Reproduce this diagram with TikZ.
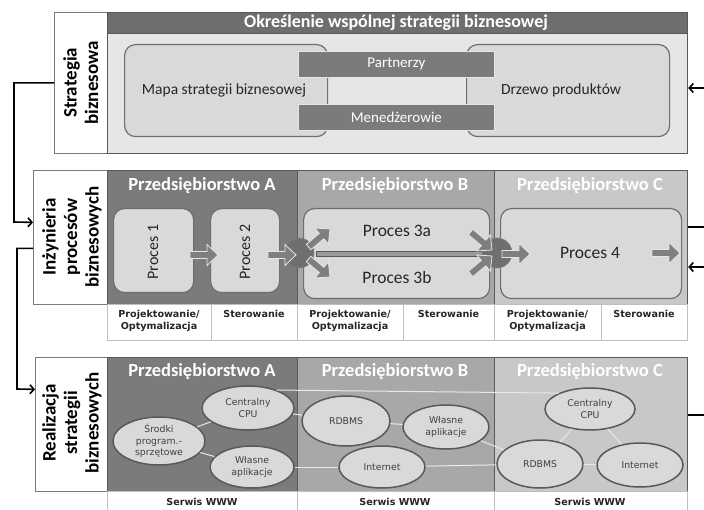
\documentclass[tikz,border=0pt]{standalone}
\usepackage{fontspec}
\setmainfont{Carlito}
\newfontfamily\smallsans{DejaVu Sans}
\usetikzlibrary{shapes.geometric,arrows.meta}
\definecolor{barC}{HTML}{6E6E6E}
\definecolor{areaA}{HTML}{7B7B7B}
\definecolor{areaB}{HTML}{A8A8A8}
\definecolor{areaC}{HTML}{C8C8C8}
\definecolor{paleC}{HTML}{E6E6E6}
\definecolor{boxC}{HTML}{D9D9D9}
\definecolor{edgeC}{HTML}{595959}
\definecolor{rimC}{HTML}{6E6E6E}
\definecolor{cellC}{HTML}{BFBFBF}
\definecolor{linkC}{HTML}{E8E8E8}
\definecolor{arrC}{HTML}{7F7F7F}
\definecolor{hubC}{HTML}{6F6F6F}
\definecolor{cellT}{HTML}{262626}
\begin{document}
\begin{tikzpicture}[x=1pt,y=-1pt,
  panel/.style={rectangle, draw=edgeC, line width=1.2pt, anchor=north west, inner sep=0},
  labbox/.style={rectangle, draw=edgeC!80, line width=0.8pt, fill=white, anchor=north west, inner sep=0},
  labtext/.style={rotate=90, font=\bfseries\fontsize{19}{21.5}\selectfont, align=center},
  title/.style={text=white, font=\bfseries\fontsize{18.5}{21}\selectfont},
  rbox/.style={rectangle, draw=rimC, line width=1.2pt, fill=boxC, rounded corners=11pt, anchor=north west, inner sep=0},
  bar/.style={rectangle, draw=paleC, line width=0.8pt, fill=areaA, anchor=north west, inner sep=0, text=white, font=\fontsize{15}{17}\selectfont},
  ptext/.style={font=\fontsize{15.5}{18}\selectfont, text=black!85},
  prtext/.style={font=\fontsize{17.5}{20}\selectfont, text=black!85},
  cell/.style={rectangle, draw=cellC, line width=0.6pt, fill=white, anchor=north west, inner sep=0},
  celltext/.style={font=\smallsans\bfseries\fontsize{9.6}{12}\selectfont, align=center, text=cellT, anchor=north},
  ell/.style={ellipse, draw=edgeC, line width=1.5pt, fill=boxC, inner sep=0, align=center, font=\smallsans\fontsize{9.3}{11.5}\selectfont, text=black!75},
  link/.style={draw=linkC, line width=1pt},
  conn/.style={draw=black, line width=1.6pt},
  tip/.style={-{Straight Barb[length=4pt,width=9pt]}},
  hub/.style={circle, fill=hubC, draw=gray, line width=0.6pt, minimum size=30, inner sep=0},
  blockarr/.pic={\draw[fill=arrC, draw=paleC, line width=0.8pt] (0,-3.5) -- (17,-3.5) -- (17,-10.5) -- (28,0) -- (17,10.5) -- (17,3.5) -- (0,3.5) -- cycle;}
]
\useasboundingbox (0,0) rectangle (704,510);

% ---------- Section 1 ----------
\node[labbox, minimum width=53, minimum height=141] (lab1) at (54,12) {};
\node[labtext] (lab1t) at (lab1.center) {Strategia\\biznesowa};
\node[panel, fill=paleC, minimum width=580, minimum height=141] (s1) at (107,12) {};
\node[panel, fill=barC, minimum width=580, minimum height=21] (s1bar) at (107,12) {};
\node[title, font=\bfseries\fontsize{18}{21}\selectfont] (s1t) at (396,22.5) {Określenie wspólnej strategii biznesowej};
\node[rbox, minimum width=203, minimum height=92] (mapa) at (124,44) {};
\node[rbox, minimum width=203, minimum height=92] (drzewo) at (466,44) {};
\node[ptext] (mapat) at (224,90) {Mapa strategii biznesowej};
\node[ptext] (drzewot) at (561,90) {Drzewo produktów};
\node[bar, minimum width=196, minimum height=26] (partn) at (298,51) {Partnerzy};
\node[bar, minimum width=196, minimum height=26] (mened) at (298,104) {Menedżerowie};

% ---------- Section 2 ----------
\node[labbox, minimum width=74, minimum height=134] (lab2) at (33,170) {};
\node[labtext] (lab2t) at (72,237) {Inżynieria\\procesów\\biznesowych};
\node[panel, fill=areaA, minimum width=190, minimum height=134] (s2A) at (107,170) {};
\node[panel, fill=areaB, minimum width=197, minimum height=134] (s2B) at (297,170) {};
\node[panel, fill=areaC, minimum width=193, minimum height=134] (s2C) at (494,170) {};
\node[title] (s2At) at (202,186) {Przedsiębiorstwo A};
\node[title] (s2Bt) at (395,186) {Przedsiębiorstwo B};
\node[title] (s2Ct) at (590,186) {Przedsiębiorstwo C};

\node[rbox, minimum width=80, minimum height=84] (p1) at (113,208) {};
\node[prtext, rotate=90, font=\fontsize{16}{18}\selectfont] (p1t) at (153,252) {Proces 1};
\node[rbox, minimum width=69, minimum height=84] (p2) at (210,208) {};
\node[prtext, rotate=90, font=\fontsize{16}{18}\selectfont] (p2t) at (245,252) {Proces 2};
\node[rbox, minimum width=186, minimum height=90] (p3) at (303,208) {};
\node[prtext] (p3a) at (397,231) {Proces 3a};
\node[prtext] (p3b) at (397,277) {Proces 3b};
\node[rbox, minimum width=181, minimum height=90] (p4) at (500,208) {};
\node[prtext] (p4t) at (590,253) {Proces 4};

\draw[fill=arrC!80, draw=edgeC, line width=0.7pt] (316,251) rectangle (482,256);
\node[hub] (hubA) at (299,253) {};
\node[hub] (hubB) at (497,253) {};

\pic at (190,255) {blockarr};
\pic at (268,255) {blockarr};
\pic[rotate=40] at (308.6,247) {blockarr};
\pic[rotate=-40] at (308.6,259) {blockarr};
\pic[rotate=-40] at (470.6,232) {blockarr};
\pic[rotate=40] at (470.6,274) {blockarr};
\pic at (502,254) {blockarr};
\pic at (652,253) {blockarr};

\node[cell, minimum width=104, minimum height=36] (c1) at (107,304) {};
\node[cell, minimum width=86, minimum height=36] (c2) at (211,304) {};
\node[cell, minimum width=106, minimum height=36] (c3) at (297,304) {};
\node[cell, minimum width=91, minimum height=36] (c4) at (403,304) {};
\node[cell, minimum width=107, minimum height=36] (c5) at (494,304) {};
\node[cell, minimum width=86, minimum height=36] (c6) at (601,304) {};
\node[celltext] (c1t) at (159,306.5) {Projektowanie/\\Optymalizacja};
\node[celltext] (c2t) at (254,306.5) {Sterowanie};
\node[celltext] (c3t) at (350,306.5) {Projektowanie/\\Optymalizacja};
\node[celltext] (c4t) at (448.5,306.5) {Sterowanie};
\node[celltext] (c5t) at (547.5,306.5) {Projektowanie/\\Optymalizacja};
\node[celltext] (c6t) at (644,306.5) {Sterowanie};

% ---------- Section 3 ----------
\node[labbox, minimum width=72, minimum height=134] (lab3) at (35,357) {};
\node[labtext] (lab3t) at (72,423) {Realizacja\\strategii\\biznesowych};
\node[panel, fill=areaA, minimum width=190, minimum height=134] (s3A) at (107,357) {};
\node[panel, fill=areaB, minimum width=197, minimum height=134] (s3B) at (297,357) {};
\node[panel, fill=areaC, minimum width=193, minimum height=134] (s3C) at (494,357) {};
\node[title] (s3At) at (202,372) {Przedsiębiorstwo A};
\node[title] (s3Bt) at (395,372) {Przedsiębiorstwo B};
\node[title] (s3Ct) at (590,372) {Przedsiębiorstwo C};

\node[cell, minimum width=190, minimum height=21] (w1) at (107,491) {};
\node[cell, minimum width=197, minimum height=21] (w2) at (297,491) {};
\node[cell, minimum width=193, minimum height=21] (w3) at (494,491) {};
\node[celltext, anchor=center] (w1t) at (202,502) {Serwis WWW};
\node[celltext, anchor=center] (w2t) at (395,502) {Serwis WWW};
\node[celltext, anchor=center] (w3t) at (590,502) {Serwis WWW};

\node[ell, minimum width=92, minimum height=48] (srodki) at (159,441) {Środki\\program.-\\sprzętowe};
\node[ell, minimum width=92, minimum height=44] (cpuA) at (248,408) {Centralny\\CPU};
\node[ell, minimum width=84, minimum height=42] (wlA) at (252,467) {Własne\\aplikacje};
\node[ell, minimum width=88, minimum height=50] (rdbB) at (346,421) {RDBMS};
\node[ell, minimum width=86, minimum height=44] (wlB) at (446,427) {Własne\\aplikacje};
\node[ell, minimum width=86, minimum height=42] (intB) at (382,467) {Internet};
\node[ell, minimum width=90, minimum height=42] (cpuC) at (590,409) {Centralny\\CPU};
\node[ell, minimum width=86, minimum height=48] (rdbC) at (540,464) {RDBMS};
\node[ell, minimum width=86, minimum height=44] (intC) at (640,465) {Internet};

\draw[link] (srodki) -- (cpuA);
\draw[link] (srodki) -- (wlA);
\draw[link] (cpuA.32) -- (cpuC.153);
\draw[link] (cpuA) -- (rdbB);
\draw[link] (rdbB) -- (wlB);
\draw[link] (wlA) -- (intB);
\draw[link] (intB) -- (rdbC);
\draw[link] (wlB) -- (rdbC);
\draw[link] (cpuC) -- (rdbC);
\draw[link] (cpuC) -- (intC);
\draw[link] (rdbC) -- (intC);

% ---------- black connectors ----------
\draw[conn, tip] (lab1.west) -| (14,222) -- ([yshift=15pt]lab2.west);
\draw[conn, tip] ([yshift=-11pt]lab2.west) -| (17,389) -- ([yshift=35pt]lab3.west);
\coordinate (e1) at (704,88);
\coordinate (e2) at (704,227);
\coordinate (e3) at (704,267);
\coordinate (e4) at (704,415);
\draw[conn, tip] (e1) -- (e1 -| s1.east);
\draw[conn] (e2 -| s2C.east) -- (e2);
\draw[conn, tip] (e3) -- (e3 -| s2C.east);
\draw[conn] (e4 -| s3C.east) -- (e4);
\end{tikzpicture}
\end{document}
